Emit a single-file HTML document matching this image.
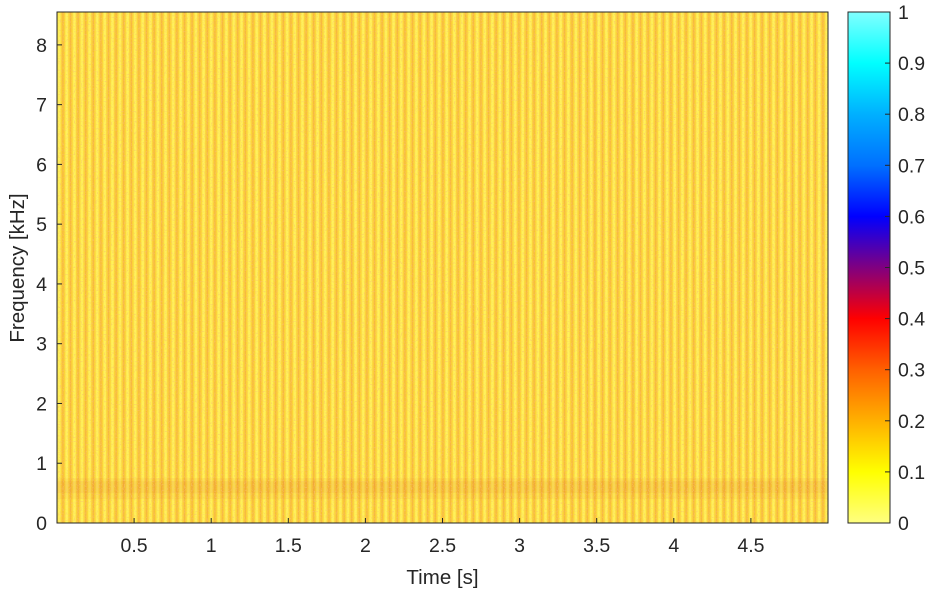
<!DOCTYPE html>
<html><head><meta charset="utf-8"><style>
body{margin:0;background:#fff;}
svg{display:block;font-family:"Liberation Sans",Arial,sans-serif;}
</style></head><body>
<svg id="chart" width="945" height="591" viewBox="0 0 945 591">
<defs>
<pattern id="stripes" patternUnits="userSpaceOnUse" width="7.6" height="40">
<rect width="7.6" height="40" fill="#fde74a"/>
<rect x="0" width="1.4" height="40" fill="#fcd23a"/>
<rect x="1.4" width="1.5" height="40" fill="#f7b93e"/>
<rect x="2.9" width="1.3" height="40" fill="#fcd236"/>
<rect x="5" width="2" height="40" fill="#fff25a"/>
</pattern>
<filter id="noise" x="0" y="0" width="100%" height="100%">
<feTurbulence type="fractalNoise" baseFrequency="0.7" numOctaves="2" seed="3"/>
<feColorMatrix type="matrix" values="0 0 0 0 0.95  0 0 0 0 0.55  0 0 0 0 0.15  5 0 0 0 -2.6"/>
</filter>
<linearGradient id="cmap" x1="0" y1="1" x2="0" y2="0">
<stop offset="0" stop-color="#ffff80"/>
<stop offset="0.1" stop-color="#ffff00"/>
<stop offset="0.2" stop-color="#ffb000"/>
<stop offset="0.3" stop-color="#ff6000"/>
<stop offset="0.4" stop-color="#ff0000"/>
<stop offset="0.5" stop-color="#800080"/>
<stop offset="0.6" stop-color="#0000ff"/>
<stop offset="0.7" stop-color="#0070ff"/>
<stop offset="0.8" stop-color="#00b0ff"/>
<stop offset="0.9" stop-color="#00ffff"/>
<stop offset="1" stop-color="#80ffff"/>
</linearGradient>
</defs>
<g id="plot"></g>
</svg>
<script>
const xTicks=[0.5,1,1.5,2,2.5,3,3.5,4,4.5];
const yTicks=[0,1,2,3,4,5,6,7,8];
const cbTicks=[0,0.1,0.2,0.3,0.4,0.5,0.6,0.7,0.8,0.9,1];
const xDomain=[0,5];
const yDomain=[0,8.55];
// low-frequency band where stripes are darker (kHz range and intensity)
const bandLo=[0.4,0.5];
const bandHi=[0.75,0.7];
const bandLevel=[0.07,0.07];

const L=57,R=828,T=12,B=523;
const sx=v=>L+(v-xDomain[0])/(xDomain[1]-xDomain[0])*(R-L);
const sy=v=>B-(v-yDomain[0])/(yDomain[1]-yDomain[0])*(B-T);
const NS='http://www.w3.org/2000/svg';
const g=document.getElementById('plot');
function mk(tag,attrs,parent){const e=document.createElementNS(NS,tag);for(const k in attrs)e.setAttribute(k,attrs[k]);(parent||g).appendChild(e);return e;}

let img=mk('rect',{x:L,y:T,width:R-L,height:B-T,fill:'url(#stripes)'});


for(let i=0;i<bandLo.length;i++){
  let b=mk('rect',{x:L,y:sy(bandHi[i]),width:R-L,height:sy(bandLo[i])-sy(bandHi[i]),fill:'#d2401a',opacity:bandLevel[i]});
  
  
}
let nz=mk('rect',{x:L,y:T,width:R-L,height:B-T,filter:'url(#noise)',opacity:0.6});


let fr=mk('rect',{x:L,y:T,width:R-L,height:B-T,fill:'none',stroke:'#262626','stroke-width':1});



xTicks.forEach(v=>{
  let x=sx(v);
  mk('line',{x1:x,x2:x,y1:B,y2:B-5,stroke:'#262626'});
  let t=mk('text',{x:x,y:B+29,'text-anchor':'middle','font-size':19.5,fill:'#262626'});
  t.textContent=v;
  
  
});
yTicks.forEach(v=>{
  let y=sy(v);
  mk('line',{x1:L,x2:L+5,y1:y,y2:y,stroke:'#262626'});
  let t=mk('text',{x:L-10,y:y+7,'text-anchor':'end','font-size':19.5,fill:'#262626'});
  t.textContent=v;
  
  
});
let xt=mk('text',{x:(L+R)/2,y:584,'text-anchor':'middle','font-size':20.5,fill:'#262626'});
xt.textContent='Time [s]';


let yt=mk('text',{x:0,y:0,transform:'translate(24,268) rotate(-90)','text-anchor':'middle','font-size':20.5,fill:'#262626'});
yt.textContent='Frequency [kHz]';



const CL=848,CR=890;
const cy=v=>B-v*(B-T);
let cb=mk('rect',{x:CL,y:T,width:CR-CL,height:B-T,fill:'url(#cmap)',stroke:'#262626','stroke-width':1});


cbTicks.forEach(v=>{
  let y=cy(v);
  mk('line',{x1:CR,x2:CR-5,y1:y,y2:y,stroke:'#262626'});
  let t=mk('text',{x:CR+8,y:y+7,'font-size':19.5,fill:'#262626'});
  t.textContent=v;
  
  
});
</script>
</body></html>
